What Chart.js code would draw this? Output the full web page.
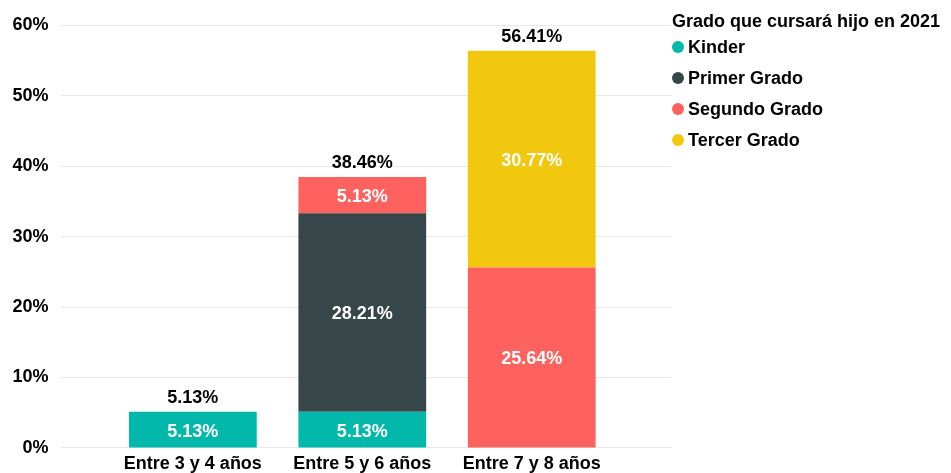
<!DOCTYPE html>
<html>
<head>
<meta charset="utf-8">
<script src="https://cdn.jsdelivr.net/npm/chart.js@4/dist/chart.umd.min.js"></script>
<style>
  html, body { margin: 0; padding: 0; background: #ffffff; }
  #c { display: block; }
</style>
</head>
<body>
<canvas id="c" width="951" height="473"></canvas>
<script>
// Age groups and the share (%) of children in each grade for 2021
const categories = ['Entre 3 y 4 años', 'Entre 5 y 6 años', 'Entre 7 y 8 años'];
const seriesNames = ['Kinder', 'Primer Grado', 'Segundo Grado', 'Tercer Grado'];
const kinder = [5.13, 5.13, null];
const primerGrado = [null, 28.21, null];
const segundoGrado = [null, 5.13, 25.64];
const tercerGrado = [null, null, 30.77];
const totals = [5.13, 38.46, 56.41];
const legendTitle = 'Grado que cursará hijo en 2021';

const colors = ['#01B8AA', '#374649', '#FD625E', '#F2C80F'];
const FONT = '"Liberation Sans", Arial, sans-serif';

const seriesValues = [kinder, primerGrado, segundoGrado, tercerGrado];
const datasets = seriesValues.map((vals, s) => ({
  label: seriesNames[s],
  data: vals.map((v, i) => ({ x: i, y: v })),
  backgroundColor: colors[s],
  borderWidth: 0,
  barPercentage: 0.754,
  categoryPercentage: 1
}));

const fmt = v => v.toFixed(2) + '%';

// Value labels inside each segment and the stack total above each bar
const barLabels = {
  id: 'barLabels',
  afterDatasetsDraw(chart) {
    const ctx = chart.ctx;
    ctx.save();
    ctx.font = 'bold 18px ' + FONT;
    ctx.textAlign = 'center';
    ctx.textBaseline = 'middle';
    const tops = [];
    chart.data.datasets.forEach((ds, di) => {
      const meta = chart.getDatasetMeta(di);
      meta.data.forEach((bar, i) => {
        const v = seriesValues[di][i];
        if (v === null) return;
        const p = bar.getProps(['x', 'y', 'base'], true);
        ctx.fillStyle = '#ffffff';
        ctx.fillText(fmt(v), p.x, (p.y + p.base) / 2 + 2);
        if (tops[i] === undefined || p.y < tops[i].y) tops[i] = { x: p.x, y: p.y };
      });
    });
    ctx.fillStyle = '#000000';
    tops.forEach((t, i) => {
      if (t) ctx.fillText(fmt(totals[i]), t.x, t.y - 14);
    });
    ctx.restore();
  }
};

// Legend with title on the right side
const sideLegend = {
  id: 'sideLegend',
  afterDraw(chart) {
    const ctx = chart.ctx;
    const x0 = chart.chartArea.right + 1;
    ctx.save();
    ctx.textBaseline = 'middle';
    ctx.textAlign = 'left';
    ctx.fillStyle = '#000000';
    ctx.font = 'bold 18px ' + FONT;
    ctx.fillText(legendTitle, x0, 22);
    seriesNames.forEach((name, i) => {
      const y = 47 + i * 31;
      ctx.beginPath();
      ctx.arc(x0 + 6, y, 6, 0, Math.PI * 2);
      ctx.fillStyle = colors[i];
      ctx.fill();
      ctx.fillStyle = '#000000';
      ctx.fillText(name, x0 + 16, y + 1);
    });
    ctx.restore();
  }
};

new Chart(document.getElementById('c'), {
  type: 'bar',
  data: { datasets },
  options: {
    responsive: false,
    animation: false,
    devicePixelRatio: 1,
    layout: { padding: { left: 0, right: 280, top: 25.5, bottom: -7.5 } },
    plugins: {
      legend: { display: false },
      tooltip: { enabled: false }
    },
    scales: {
      x: {
        type: 'linear',
        stacked: true,
        offset: false,
        min: -0.778,
        max: 2.822,
        grid: { display: false, offset: false, drawTicks: false },
        border: { display: false },
        afterBuildTicks(scale) {
          scale.ticks = categories.map((_, i) => ({ value: i }));
        },
        ticks: {
          autoSkip: false,
          maxRotation: 0,
          padding: 5.5,
          color: '#000000',
          font: { family: FONT, size: 18, weight: 'bold' },
          callback: v => categories[v] ?? ''
        }
      },
      y: {
        stacked: true,
        min: 0,
        max: 60,
        grid: { color: '#e8e8e8', lineWidth: 1, drawTicks: false },
        border: { display: false },
        ticks: {
          stepSize: 10,
          padding: 12.5,
          color: '#000000',
          font: { family: FONT, size: 18, weight: 'bold' },
          callback: v => v + '%'
        }
      }
    }
  },
  plugins: [barLabels, sideLegend]
});
</script>
</body>
</html>
